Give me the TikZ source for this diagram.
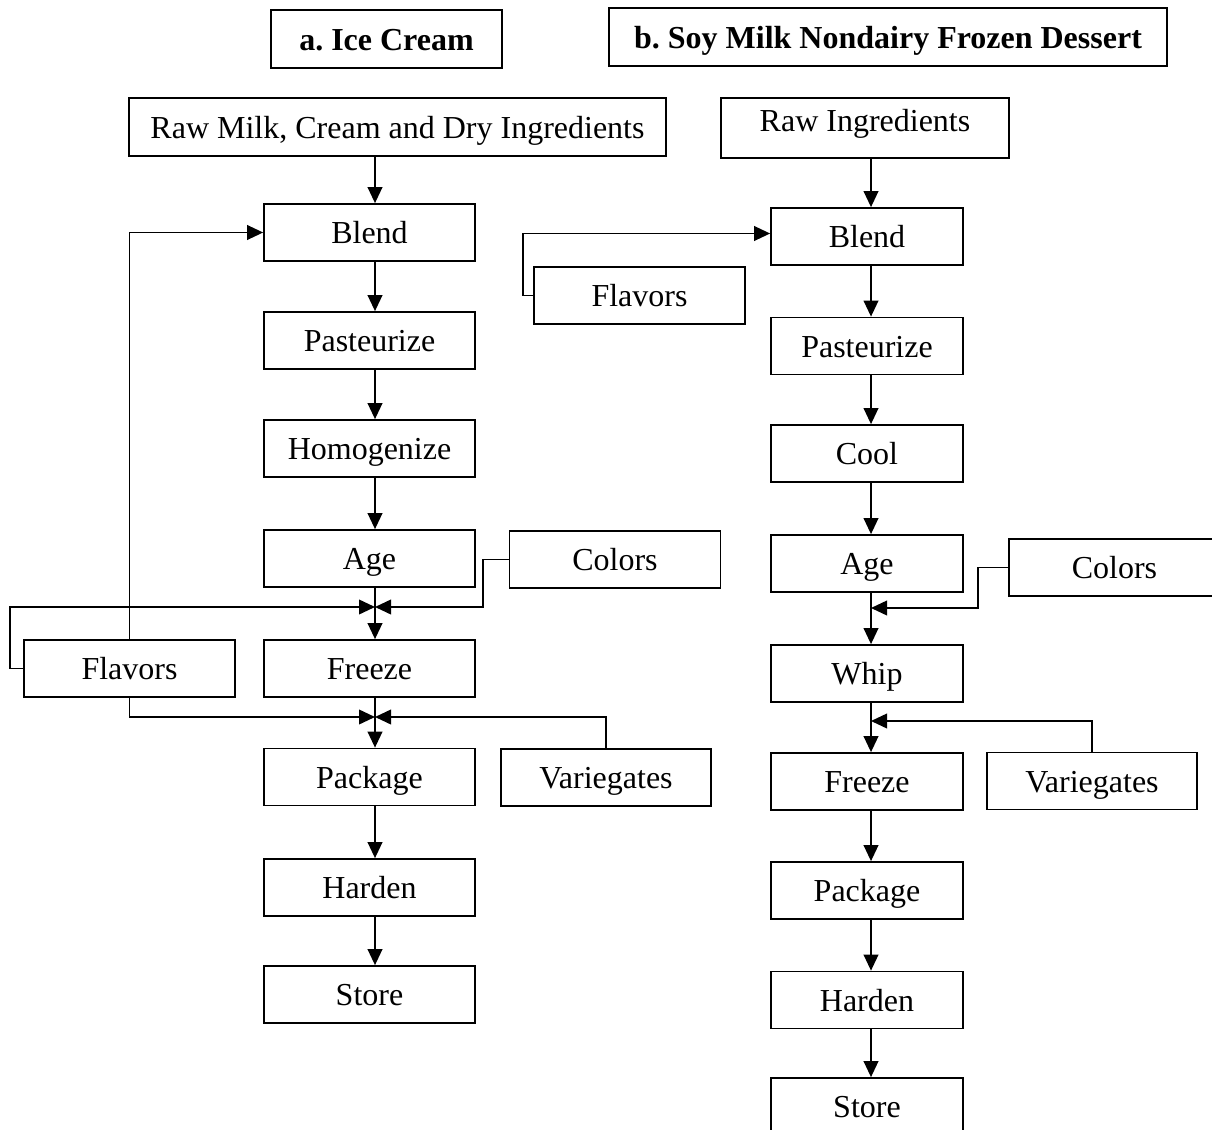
\documentclass[tikz,border=0pt]{standalone}
\usepackage{fontspec}
\setmainfont{Liberation Serif}
\usetikzlibrary{arrows.meta}
\frenchspacing
\begin{document}
\begin{tikzpicture}[x=0.75pt,y=-0.75pt,
  every node/.style={font=\fontsize{24}{28}\selectfont},
  box/.style={draw,line width=1.3pt,inner sep=0pt,minimum height=42.75pt,text height=17pt,text depth=0pt},
  lbox/.style={box,minimum width=158.25pt},
  rbox/.style={box,minimum width=144pt},
  titlebox/.style={draw,line width=1.3pt,inner sep=0pt,minimum height=43.5pt,text height=17pt,text depth=0pt,font=\fontsize{24}{28}\selectfont\bfseries},
  conn/.style={line width=1.3pt},
  arr/.style={conn,-{Triangle[length=12pt,width=11pt]}}]
\useasboundingbox (0,0) rectangle (1212,1130);
\clip (0,0) rectangle (1212,1130);
% titles
\node[titlebox,minimum width=173.25pt] (ta) at (386.5,39) {a. Ice Cream};
\node[titlebox,minimum width=418.5pt] (tb) at (888,37) {b. Soy Milk Nondairy Frozen Dessert};
% left column
\node[box,minimum width=402.75pt,minimum height=43.5pt] (rawL) at (397.5,127) {Raw Milk, Cream and Dry Ingredients};
\node[lbox] (blendL) at (369.5,232.5) {Blend};
\node[lbox] (pastL) at (369.5,340.5) {Pasteurize};
\node[lbox] (homL) at (369.5,448.5) {Homogenize};
\node[lbox] (ageL) at (369.5,558.5) {Age};
\node[lbox] (freezeL) at (369.5,668.5) {Freeze};
\node[lbox] (packL) at (369.5,777) {Package};
\node[lbox] (hardL) at (369.5,887.5) {Harden};
\node[lbox] (storeL) at (369.5,994.5) {Store};
\node[lbox] (flavL) at (129.5,668.5) {Flavors};
\node[lbox] (colL) at (615,559.5) {Colors};
\node[box,minimum width=157.5pt] (varL) at (606,777.5) {Variegates};
% right column
\node[box,minimum width=216pt,minimum height=45pt,text depth=11pt] (rawR) at (865,128) {Raw Ingredients};
\node[rbox] (blendR) at (867,236.5) {Blend};
\node[rbox] (pastR) at (867,346) {Pasteurize};
\node[rbox] (coolR) at (867,453.5) {Cool};
\node[rbox] (ageR) at (867,563.5) {Age};
\node[rbox] (whipR) at (867,673.5) {Whip};
\node[rbox] (freezeR) at (867,781.5) {Freeze};
\node[rbox] (packR) at (867,890.5) {Package};
\node[rbox] (hardR) at (867,1000) {Harden};
\node[rbox] (storeR) at (867,1106.5) {Store};
\node[lbox] (flavR) at (639.5,295.5) {Flavors};
\node[lbox] (colR) at (1114.5,567.5) {Colors};
\node[box,minimum width=157.5pt] (varR) at (1092,781) {Variegates};
% helper coordinates
\coordinate (LX) at (375,0);
\coordinate (RX) at (871,0);
\coordinate (j1) at (375,607);
\coordinate (j2) at (375,717);
\coordinate (k1) at (871,608);
\coordinate (k2) at (871,721);
% left connectors
\draw[arr] (rawL.south -| LX) -- (blendL.north -| LX);
\draw[arr] (blendL.south -| LX) -- (pastL.north -| LX);
\draw[arr] (pastL.south -| LX) -- (homL.north -| LX);
\draw[arr] (homL.south -| LX) -- (ageL.north -| LX);
\draw[arr] (ageL.south -| LX) -- (freezeL.north -| LX);
\draw[arr] (freezeL.south -| LX) -- (packL.north -| LX);
\draw[arr] (packL.south -| LX) -- (hardL.north -| LX);
\draw[arr] (hardL.south -| LX) -- (storeL.north -| LX);
\draw[arr] (flavL.north) |- (blendL.west);
\draw[arr] (flavL.west) -- ++(-13,0) |- (j1);
\draw[arr] (colL.west) -- ++(-26,0) |- (j1);
\draw[arr] (flavL.south) |- (j2);
\draw[arr] (varL.north) |- (j2);
% right connectors
\draw[arr] (rawR.south -| RX) -- (blendR.north -| RX);
\draw[arr] (blendR.south -| RX) -- (pastR.north -| RX);
\draw[arr] (pastR.south -| RX) -- (coolR.north -| RX);
\draw[arr] (coolR.south -| RX) -- (ageR.north -| RX);
\draw[arr] (ageR.south -| RX) -- (whipR.north -| RX);
\draw[arr] (whipR.south -| RX) -- (freezeR.north -| RX);
\draw[arr] (freezeR.south -| RX) -- (packR.north -| RX);
\draw[arr] (packR.south -| RX) -- (hardR.north -| RX);
\draw[arr] (hardR.south -| RX) -- (storeR.north -| RX);
\draw[arr] (flavR.west) -- ++(-10,0) |- ([yshift=2.25pt]blendR.west);
\draw[arr] (colR.west) -- ++(-30,0) |- (k1);
\draw[arr] (varR.north) |- (k2);
\end{tikzpicture}
\end{document}
